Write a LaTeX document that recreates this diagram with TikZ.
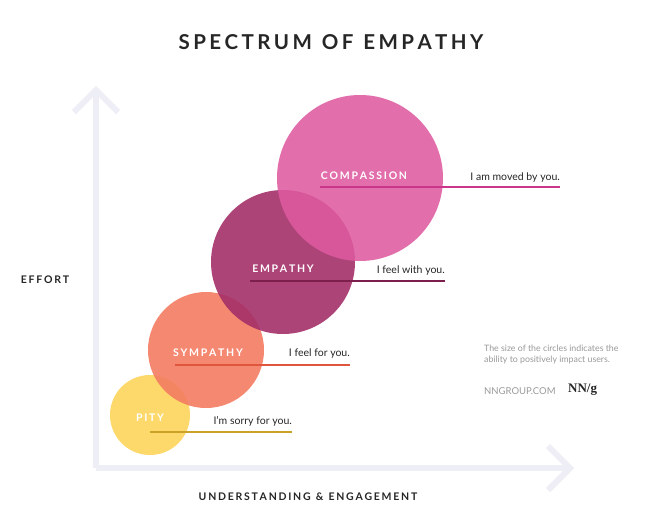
\documentclass[tikz,border=0pt]{standalone}
\usepackage{fontspec}
\setmainfont{Lato}
\newfontfamily\serifnn{Liberation Serif}
\begin{document}
\begin{tikzpicture}[x=1pt,y=-1pt,
  axis/.style={draw=axiscol,line width=6pt},
  bub/.style={circle,inner sep=0pt,fill opacity=0.9,text opacity=1},
  lab/.style={font=\bfseries\fontsize{10.5}{12}\selectfont,text=white,inner sep=0pt},
  say/.style={font=\fontsize{10.5}{12}\selectfont,text=black!85,inner sep=0pt},
  ul/.style={line width=2pt}]
\definecolor{axiscol}{HTML}{EEEEF6}
\definecolor{pity}{HTML}{FDD55C}
\definecolor{pityl}{HTML}{C9A227}
\definecolor{sym}{HTML}{F47C62}
\definecolor{syml}{HTML}{E0553D}
\definecolor{emp}{HTML}{A5306A}
\definecolor{empl}{HTML}{7C1F4C}
\definecolor{comp}{HTML}{DE5AA0}
\definecolor{compl}{HTML}{C9368A}
\definecolor{note}{HTML}{9A9A9A}
\useasboundingbox[fill=white] (0,0) rectangle (662,514);
% axes
\coordinate (o) at (96,468);
\coordinate (ytop) at (96,90);
\coordinate (xend) at (570,468);
\draw[axis] (o) -- (ytop);
\draw[axis] (74,112) -- (ytop) -- (118,112);
\draw[axis] (o) -- (xend);
\draw[axis] (548,446) -- (xend) -- (548,490);
% circles
\node[bub,fill=pity,minimum size=80pt] (cpity) at (150,415) {};
\node[bub,fill=sym,minimum size=116pt] (csym) at (206,350) {};
\node[bub,fill=emp,minimum size=144pt] (cemp) at (283,262) {};
\node[bub,fill=comp,fill opacity=0.88,minimum size=166pt] (ccomp) at (360,178) {};
% underlines
\coordinate (p1) at (150,432); \coordinate (p2) at (292,432);
\coordinate (s1) at (175,365); \coordinate (s2) at (350,365);
\coordinate (e1) at (250,281); \coordinate (e2) at (445,281);
\coordinate (c1) at (320,187); \coordinate (c2) at (560,187);
\draw[ul,pityl] (p1) -- (p2);
\draw[ul,syml] (s1) -- (s2);
\draw[ul,empl] (e1) -- (e2);
\draw[ul,compl] (c1) -- (c2);
% labels
\node[lab] (lpity) at (150,418) {P\,I\,T\,Y};
\node[lab] (lsym) at (208,353) {S\,Y\,M\,P\,A\,T\,H\,Y};
\node[lab] (lemp) at (283,269) {E\,M\,P\,A\,T\,H\,Y};
\node[lab] (lcomp) at (364,176) {C\,O\,M\,P\,A\,S\,S\,I\,O\,N};
\node[say,anchor=east] (tpity) at (292,421) {I’m sorry for you.};
\node[say,anchor=east] (tsym) at (350,354) {I feel for you.};
\node[say,anchor=east] (temp) at (445,271) {I feel with you.};
\node[say,anchor=east] (tcomp) at (560,178) {I am moved by you.};
% titles
\node[font=\bfseries\fontsize{20.5}{24}\selectfont,text=black!85] (title) at (331,42) {S\,P\,E\,C\,T\,R\,U\,M\ \ O\,F\ \ E\,M\,P\,A\,T\,H\,Y};
\node[font=\bfseries\fontsize{10.5}{12}\selectfont,text=black!85] (yl) at (45,280) {E\,F\,F\,O\,R\,T};
\node[font=\bfseries\fontsize{10.5}{12}\selectfont,text=black!85] (xl) at (308,497) {U\,N\,D\,E\,R\,S\,T\,A\,N\,D\,I\,N\,G\ \ \&\ \ E\,N\,G\,A\,G\,E\,M\,E\,N\,T};
\node[font=\fontsize{8.8}{11}\selectfont,text=note,align=left,anchor=west,inner sep=0pt] (nt) at (484,355) {The size of the circles indicates the\\ability to positively impact users.};
\node[font=\fontsize{9.5}{11}\selectfont,text=note,anchor=west,inner sep=0pt] (nn) at (484,391) {NNGROUP.COM};
\node[font=\serifnn\bfseries\fontsize{13}{14}\selectfont,text=black!85,anchor=west,inner sep=0pt] (logo) at (568,390) {NN/g};
\end{tikzpicture}
\end{document}
